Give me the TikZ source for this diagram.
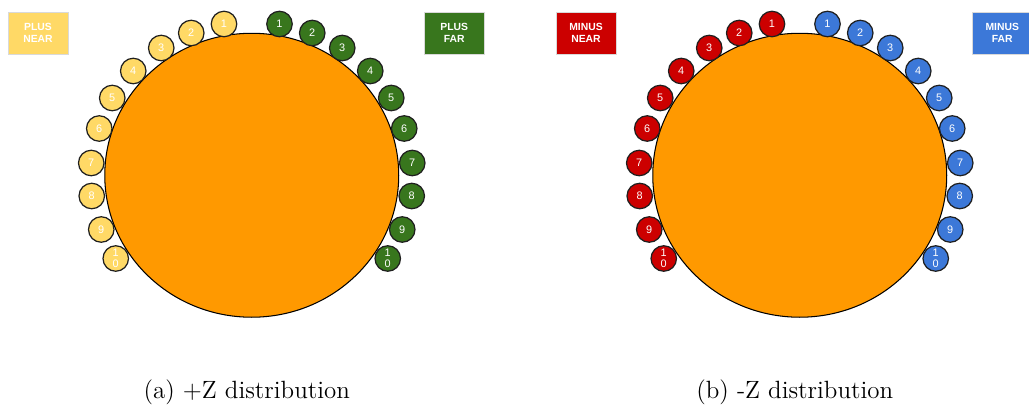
\documentclass[tikz,border=0pt]{standalone}
\usepackage{fontspec}
\setsansfont{Liberation Sans}
\usetikzlibrary{shapes.geometric}
\definecolor{sun}{HTML}{FF9900}
\definecolor{plusnear}{HTML}{FFD966}
\definecolor{plusfar}{HTML}{38761D}
\definecolor{minusnear}{HTML}{CC0000}
\definecolor{minusfar}{HTML}{3C78D8}
\definecolor{rim}{HTML}{1F1F1F}
\tikzset{disc/.style={ellipse,draw=black,line width=.6pt,fill=sun,minimum width=5.88cm,
    minimum height=5.68cm,inner sep=0pt},
  mag/.style={circle,draw=rim,line width=.7pt,fill=#1,minimum size=5.1mm,inner sep=0pt,
    text=white,align=center,font=\sffamily\fontsize{6.2}{6.4}\selectfont},
  tag/.style={rectangle,draw=black!15,line width=.4pt,fill=#1,minimum width=12mm,
    minimum height=8.4mm,inner sep=0pt,text=white,align=center,
    font=\sffamily\bfseries\fontsize{5.9}{6.5}\selectfont},
  subcap/.style={font=\fontsize{14.2}{16}\selectfont}}
% one half: the disc, ten magnets on each side, the two tags and the caption
\newcommand{\zpanel}[6]{%
\node[disc] (#1core) at (0,0) {};
\foreach \n/\ox/\oy in {1/27.75/-151.25,2/60.5/-142.25,3/90.5/-127.25,4/118.5/-104.25,
    5/139.5/-77.25,6/152.5/-46.75,7/160.5/-12.25,8/160/20.75,9/150.5/54.25,10/136/83.25}{
  \node[mag=#2] (#1near\n) at (-\ox,\oy) {\ifnum\n=10 1\\0\else\n\fi};
  \node[mag=#3] (#1far\n) at (\ox,\oy) {\ifnum\n=10 1\\0\else\n\fi};}
\node[tag=#2] (#1neartag) at (-213.75,-142.25) {#4};
\node[tag=#3] (#1fartag) at (202.5,-142.25) {#5};
\node[subcap] (#1cap) at (-5,217) {#6};}

\begin{document}
\begin{tikzpicture}[x=0.02cm,y=-0.02cm]
\useasboundingbox (0,0) rectangle (1029,406);
\begin{scope}[shift={(251.75,175.25)}]
\zpanel{p}{plusnear}{plusfar}{PLUS\\NEAR}{PLUS\\FAR}{(a) +Z distribution}
\end{scope}
\begin{scope}[shift={(799.75,175.25)}]
\zpanel{m}{minusnear}{minusfar}{MINUS\\NEAR}{MINUS\\FAR}{(b) -Z distribution}
\end{scope}
\end{tikzpicture}
\end{document}
